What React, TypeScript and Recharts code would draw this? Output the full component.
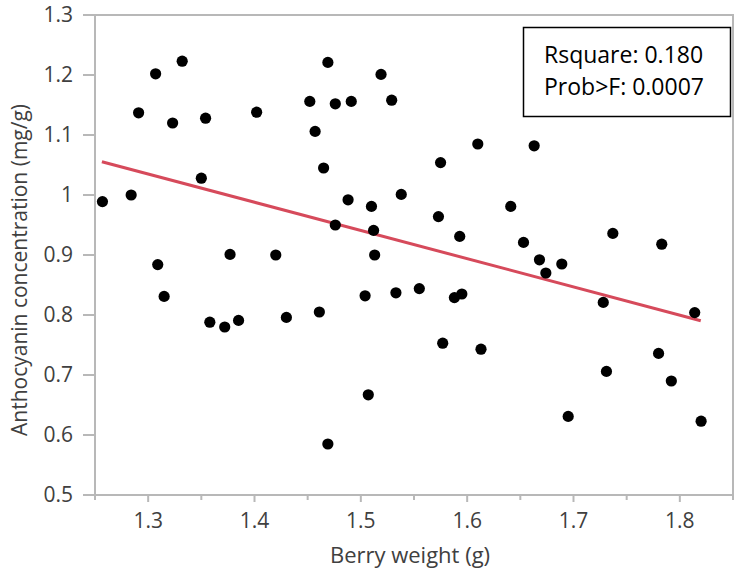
import React from 'react';
import { ScatterChart, Scatter, XAxis, YAxis, ReferenceLine, ReferenceArea, Label } from 'recharts';

const berryWeight = [
  1.257, 1.284, 1.291, 1.307, 1.332, 1.323, 1.354, 1.350, 1.402, 1.309,
  1.377, 1.420, 1.469, 1.519, 1.452, 1.476, 1.491, 1.529, 1.457, 1.465,
  1.610, 1.575, 1.488, 1.510, 1.538, 1.476, 1.512, 1.573, 1.593, 1.641,
  1.513, 1.663, 1.653, 1.668, 1.674, 1.689, 1.737, 1.783, 1.728, 1.814,
  1.780, 1.731, 1.792, 1.695, 1.820, 1.461, 1.504, 1.533, 1.555, 1.588,
  1.595, 1.577, 1.613, 1.507, 1.469, 1.315, 1.358, 1.372, 1.385, 1.430,
];
const anthocyanin = [
  0.989, 1.000, 1.137, 1.202, 1.223, 1.120, 1.128, 1.028, 1.138, 0.884,
  0.901, 0.900, 1.221, 1.201, 1.156, 1.152, 1.156, 1.158, 1.106, 1.045,
  1.085, 1.054, 0.992, 0.981, 1.001, 0.950, 0.941, 0.964, 0.931, 0.981,
  0.900, 1.082, 0.921, 0.892, 0.870, 0.885, 0.936, 0.918, 0.821, 0.804,
  0.736, 0.706, 0.690, 0.631, 0.623, 0.805, 0.832, 0.837, 0.844, 0.829,
  0.835, 0.753, 0.743, 0.667, 0.585, 0.831, 0.788, 0.780, 0.791, 0.796,
];
const fitLine = [
  { x: 1.2565, y: 1.0555 },
  { x: 1.8197, y: 0.7905 },
];
const xTicks = [1.25, 1.3, 1.35, 1.4, 1.45, 1.5, 1.55, 1.6, 1.65, 1.7, 1.75, 1.8, 1.85];
const xMajorTicks = [1.3, 1.4, 1.5, 1.6, 1.7, 1.8];
const yTicks = [0.5, 0.6, 0.7, 0.8, 0.9, 1, 1.1, 1.2, 1.3];
const statsLines = ['Rsquare: 0.180', 'Prob>F: 0.0007'];

const points = berryWeight.map((w, i) => ({ x: w, y: anthocyanin[i] }));

const FONT = '"Open Sans", sans-serif';
const AXIS_COLOR = '#b8b8b8';
const TEXT_COLOR = '#404040';

const XTick = (props: any) => {
  const { x, y, payload } = props;
  const major = xMajorTicks.some((t) => Math.abs(t - payload.value) < 1e-9);
  return (
    <g>
      <line x1={x} x2={x} y1={y} y2={y + (major ? 7 : 5)} stroke={AXIS_COLOR} strokeWidth={2} />
      {major && (
        <text x={x} y={y + 18} dy="0.71em" textAnchor="middle" fontFamily={FONT} fontSize={21} fill={TEXT_COLOR}>
          {String(payload.value)}
        </text>
      )}
    </g>
  );
};

const YTitle = (props: any) => {
  const vb = props.viewBox;
  const cx = 27;
  const cy = vb.y + vb.height / 2 + 15;
  return (
    <text x={cx} y={cy} transform={`rotate(-90 ${cx} ${cy})`} textAnchor="middle" fontFamily={FONT} fontSize={21} fill={TEXT_COLOR}>
      Anthocyanin concentration (mg/g)
    </text>
  );
};

const XTitle = (props: any) => {
  const vb = props.viewBox;
  const cx = vb.x + vb.width / 2 - 4;
  return (
    <text x={cx} y={563} textAnchor="middle" fontFamily={FONT} fontSize={22} fill={TEXT_COLOR}>
      Berry weight (g)
    </text>
  );
};

export default function App() {
  return (
    <div style={{ position: 'absolute', left: 0, top: 0, width: 734, height: 577, background: '#fff' }}>
      <ScatterChart width={734} height={577} margin={{ top: 15, right: 1, bottom: 0, left: 0 }}>
        <ReferenceArea x1={1.25} x2={1.85} y1={0.5} y2={1.3} fill="none" stroke={AXIS_COLOR} strokeWidth={2} ifOverflow="visible" />
        <XAxis
          type="number"
          dataKey="x"
          domain={[1.25, 1.85]}
          ticks={xTicks}
          interval={0}
          height={82}
          tickSize={0}
          tickMargin={0}
          tickLine={false}
          stroke={AXIS_COLOR}
          strokeWidth={2}
          tick={<XTick />}
          allowDataOverflow
        >
          <Label content={<XTitle />} />
        </XAxis>
        <YAxis
          type="number"
          dataKey="y"
          domain={[0.5, 1.3]}
          ticks={yTicks}
          interval={0}
          width={95}
          tickSize={12}
          tickMargin={10}
          stroke={AXIS_COLOR}
          strokeWidth={2}
          tick={{ fontFamily: FONT, fontSize: 21, fill: TEXT_COLOR }}
          tickFormatter={(v: number) => String(v)}
          allowDataOverflow
        >
          <Label content={<YTitle />} />
        </YAxis>
        <ReferenceLine segment={fitLine} stroke="#d64a5b" strokeWidth={3} ifOverflow="visible" />
        <Scatter data={points} fill="#000" isAnimationActive={false} shape={(p: any) => <circle cx={p.cx} cy={p.cy} r={5.6} fill="#000" />} />
      </ScatterChart>
      <svg width={734} height={577} style={{ position: 'absolute', left: 0, top: 0, pointerEvents: 'none' }}>
        <rect x={523.5} y={27.5} width={207} height={89} fill="#fff" stroke="#000" strokeWidth={1.5} />
        {statsLines.map((s, i) => (
          <text key={s} x={544} y={63 + i * 32} fontFamily={FONT} fontSize={23} fill="#000">
            {s}
          </text>
        ))}
      </svg>
    </div>
  );
}
